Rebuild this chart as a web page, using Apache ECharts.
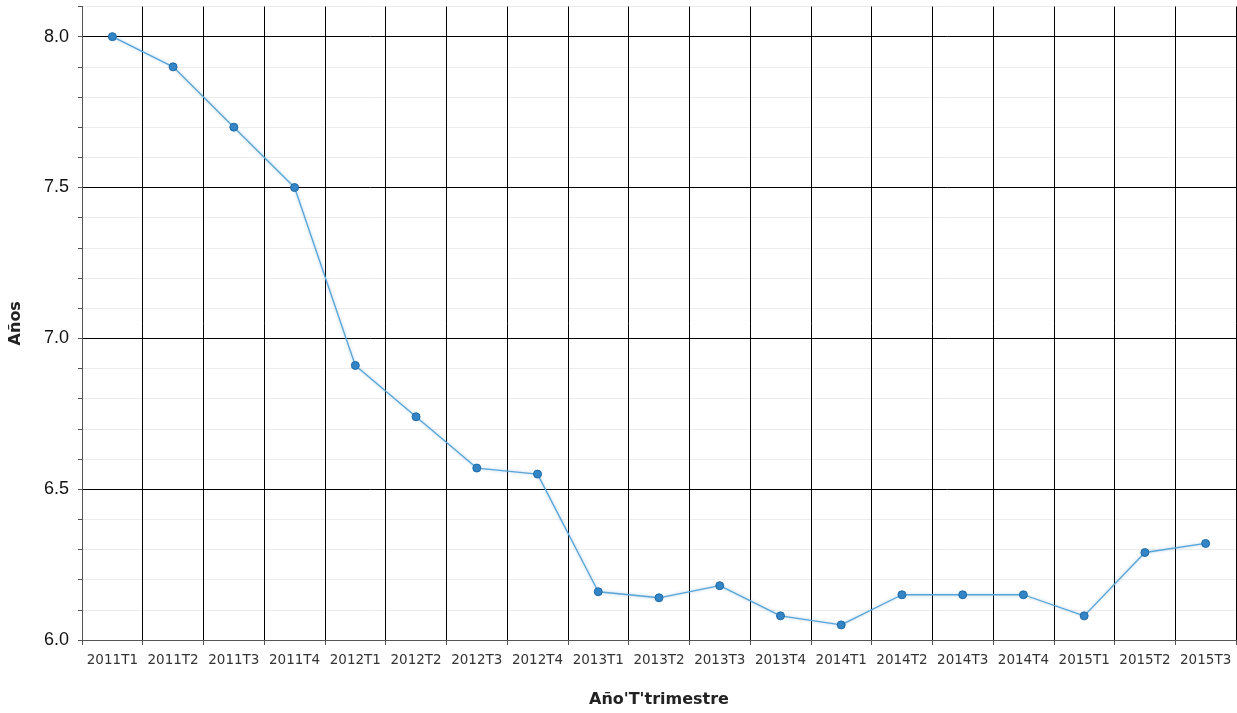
<!DOCTYPE html>
<html><head><meta charset="utf-8">
<script src="https://cdn.jsdelivr.net/npm/echarts@6/dist/echarts.min.js"></script>
<style>html,body{margin:0;padding:0;background:#fff;overflow:hidden}#c{width:1237px;height:713px}</style>
</head><body><div id="c"></div>
<script>
const categories = ['2011T1','2011T2','2011T3','2011T4','2012T1','2012T2','2012T3','2012T4','2013T1','2013T2','2013T3','2013T4','2014T1','2014T2','2014T3','2014T4','2015T1','2015T2','2015T3'];
const values = [8.0, 7.90, 7.70, 7.50, 6.91, 6.74, 6.57, 6.55, 6.16, 6.14, 6.18, 6.08, 6.05, 6.15, 6.15, 6.15, 6.08, 6.29, 6.32];
const yMin = 6.0, yMax = 8.1, yStep = 0.1, yLabelStep = 0.5;
const xName = "Año'T'trimestre", yName = 'Años';

const chart = echarts.init(document.getElementById('c'));
chart.setOption({
  animation: false,
  backgroundColor: '#fff',
  grid: { left: 78, right: 1, top: 6.5, bottom: 65, containLabel: false },
  xAxis: {
    type: 'category', data: categories, boundaryGap: true,
    name: xName, nameLocation: 'middle', nameGap: 52,
    nameTextStyle: { fontFamily: 'DejaVu Sans', fontWeight: 'bold', fontSize: 16, color: '#222' },
    axisLine: { lineStyle: { color: '#555', width: 1 } },
    axisTick: { show: true, alignWithLabel: false, length: 5, lineStyle: { color: '#555' } },
    axisLabel: { fontFamily: 'DejaVu Sans', fontSize: 13.5, color: '#333', margin: 13, interval: 0 },
    splitLine: { show: true, interval: 0, lineStyle: { color: '#000', width: 1 } }
  },
  yAxis: {
    type: 'value', min: yMin, max: yMax, interval: yStep,
    name: yName, nameLocation: 'middle', nameGap: 58, nameRotate: 90,
    nameTextStyle: { fontFamily: 'DejaVu Sans', fontWeight: 'bold', fontSize: 16, color: '#222' },
    axisLine: { show: true, lineStyle: { color: '#555' } },
    axisTick: { show: true, length: 4, lineStyle: { color: '#555' } },
    axisLabel: {
      fontFamily: 'Liberation Sans', fontSize: 18, color: '#111', margin: 13,
      formatter: v => { const r = Math.round(v * 10); return (r % (yLabelStep * 10) === 0 && v <= 8.0001) ? (r / 10).toFixed(1) : ''; }
    },
    splitLine: { show: true, lineStyle: { color: ['#000', '#ececec', '#ececec', '#ececec', '#ececec'], width: 1 } }
  },
  series: [{
    type: 'line', data: values,
    symbol: 'circle', symbolSize: 8,
    lineStyle: { color: '#5aa5d6', width: 1.3, shadowColor: 'rgba(70,150,210,0.5)', shadowBlur: 3 },
    itemStyle: { color: '#3385c6', borderColor: '#1f6aa6', borderWidth: 1 }
  }]
});
</script></body></html>
